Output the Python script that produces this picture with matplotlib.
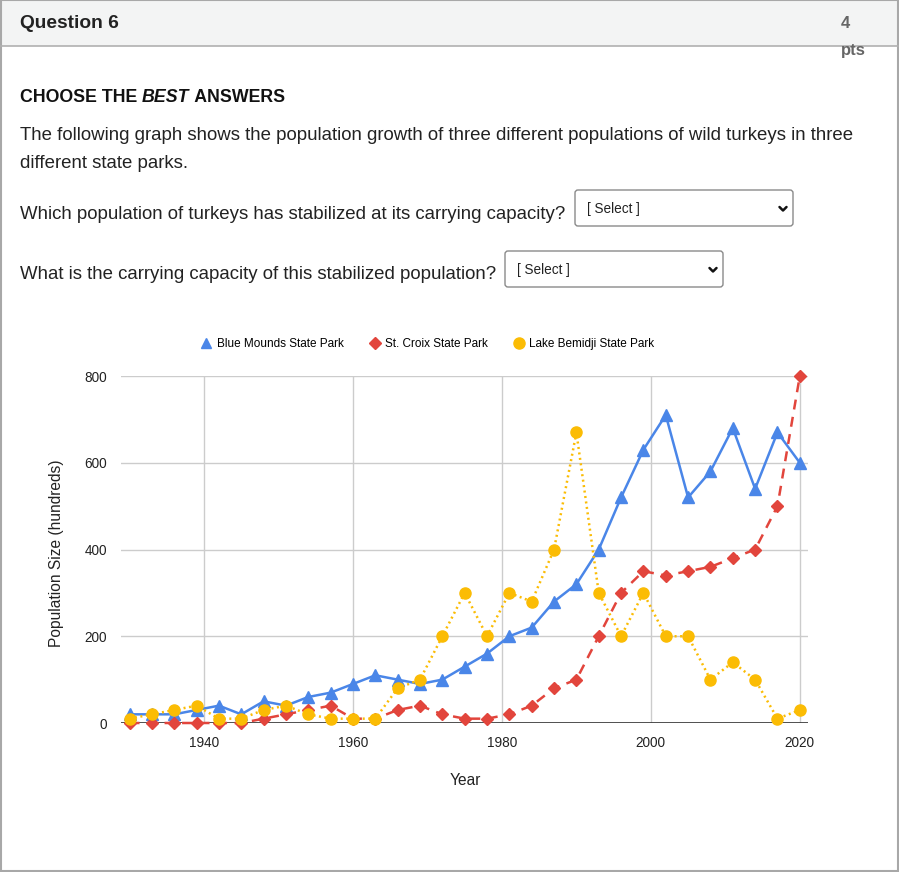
import matplotlib.pyplot as plt
from matplotlib.patches import Rectangle, FancyBboxPatch
from matplotlib.lines import Line2D

plt.rcParams['font.family'] = ['Liberation Sans', 'DejaVu Sans']

years = [1930, 1933, 1936, 1939, 1942, 1945, 1948, 1951, 1954, 1957, 1960,
         1963, 1966, 1969, 1972, 1975, 1978, 1981, 1984, 1987, 1990, 1993,
         1996, 1999, 2002, 2005, 2008, 2011, 2014, 2017, 2020]
blue_mounds = [20, 20, 20, 30, 40, 20, 50, 40, 60, 70, 90,
               110, 100, 90, 100, 130, 160, 200, 220, 280, 320, 400,
               520, 630, 710, 520, 580, 680, 540, 670, 600]
st_croix = [0, 0, 0, 0, 0, 0, 10, 20, 30, 40, 10,
            10, 30, 40, 20, 10, 10, 20, 40, 80, 100, 200,
            300, 350, 340, 350, 360, 380, 400, 500, 800]
lake_bemidji = [10, 20, 30, 40, 10, 10, 30, 40, 20, 10, 10,
                10, 80, 100, 200, 300, 200, 300, 280, 400, 670, 300,
                200, 300, 200, 200, 100, 140, 100, 10, 30]
series_names = ["Blue Mounds State Park", "St. Croix State Park", "Lake Bemidji State Park"]
x_ticks = [1940, 1960, 1980, 2000, 2020]
y_ticks = [0, 200, 400, 600, 800]

W, H = 899, 872
fig = plt.figure(figsize=(W / 100, H / 100), dpi=100)

# page background (pixel coordinates)
bg = fig.add_axes([0, 0, 1, 1])
bg.set_xlim(0, W)
bg.set_ylim(H, 0)
bg.axis('off')
bg.add_patch(Rectangle((0, 0), W, 46, facecolor='#f3f4f4', edgecolor='none'))
bg.plot([0, W], [46, 46], color='#b0b0b0', lw=1.2)
bg.add_patch(Rectangle((0.5, 0.5), W - 1.5, H - 1.5, facecolor='none', edgecolor='#a8a8a8', lw=1.5))

bg.text(20, 23, "Question 6", fontsize=13.8, fontweight='bold', va='center', color='#222')
bg.text(841, 24, "4", fontsize=12, fontweight='bold', va='center', color='#666')
bg.text(841, 51, "pts", fontsize=12, fontweight='bold', va='center', color='#666')

fs_head = 12.8
t = bg.text(20, 97, "CHOOSE THE ", fontsize=fs_head, fontweight='bold', va='center', color='#111')
bg.annotate("BEST", xycoords=t, xy=(1, 0), va='bottom', fontsize=fs_head, fontweight='bold',
            fontstyle='italic', color='#111')
t2 = bg.text(20, 97, "CHOOSE THE BEST", fontsize=fs_head, fontweight='bold', va='center', alpha=0)
bg.annotate(" ANSWERS", xycoords=t2, xy=(1, 0), va='bottom', fontsize=fs_head, fontweight='bold', color='#111')

body = 13.45
bg.text(20, 136, "The following graph shows the population growth of three different populations of wild turkeys in three",
        fontsize=body, va='center', color='#222')
bg.text(20, 164, "different state parks.", fontsize=body, va='center', color='#222')
bg.text(20, 214, "Which population of turkeys has stabilized at its carrying capacity?",
        fontsize=body, va='center', color='#222')
bg.text(20, 274, "What is the carrying capacity of this stabilized population?",
        fontsize=body, va='center', color='#222')

for x0, y0 in [(575, 190), (505, 251)]:
    bg.add_patch(FancyBboxPatch((x0, y0), 218, 36, boxstyle="round,pad=0,rounding_size=3",
                                facecolor='white', edgecolor='#8a8a8a', lw=1))
    bg.text(x0 + 12, y0 + 19, "[ Select ]", fontsize=9.8, va='center', color='#222')
    cx, cy = x0 + 208, y0 + 19
    bg.plot([cx - 3.5, cx, cx + 3.5], [cy - 2, cy + 1.5, cy - 2], color='#111', lw=1.8,
            solid_capstyle='round', solid_joinstyle='round')

# chart
left, right, top, bottom = 121, 808, 376, 723
ax = fig.add_axes([left / W, 1 - bottom / H, (right - left) / W, (bottom - top) / H])
ax.set_xlim(1928.85, 2021.1)
ax.set_ylim(0, 800)
for s in ax.spines.values():
    s.set_visible(False)
ax.set_xticks(x_ticks)
ax.set_yticks(y_ticks)
ax.tick_params(length=0, labelsize=9.8, colors='#222')
ax.tick_params(axis='y', pad=10)
ax.tick_params(axis='x', pad=9)
ax.grid(True, color='#cccccc', lw=1)
ax.set_axisbelow(True)
ax.axhline(0, color='#333333', lw=1.2, zorder=1.5)

colors = ['#4a86e8', '#e2453c', '#fbbc04']
ax.plot(years, blue_mounds, color=colors[0], lw=1.8, marker='^', ms=8, clip_on=False, zorder=3)
ax.plot(years, st_croix, color=colors[1], lw=1.8, ls=(0, (4, 3)), marker='D', ms=6.5,
        clip_on=False, zorder=4)
ax.plot(years, lake_bemidji, color=colors[2], lw=1.8, ls=(0, (0.8, 1.4)), marker='o', ms=8,
        clip_on=False, zorder=5)

bg.text(465, 780, "Year", fontsize=11.2, ha='center', va='center', color='#222')
bg.text(57, 553, "Population Size (hundreds)", fontsize=11.2, rotation=90, ha='center',
        va='center', color='#222')

handles = [Line2D([], [], color=colors[0], marker='^', ls='none', ms=7),
           Line2D([], [], color=colors[1], marker='D', ls='none', ms=6),
           Line2D([], [], color=colors[2], marker='o', ls='none', ms=8)]
fig.legend(handles, series_names, loc='center', bbox_to_anchor=(427 / W, 1 - 344 / H),
           ncol=3, frameon=False, fontsize=8.5, handletextpad=0.3, columnspacing=2.0,
           handlelength=1.2)

fig.savefig('out.png', dpi=100)
